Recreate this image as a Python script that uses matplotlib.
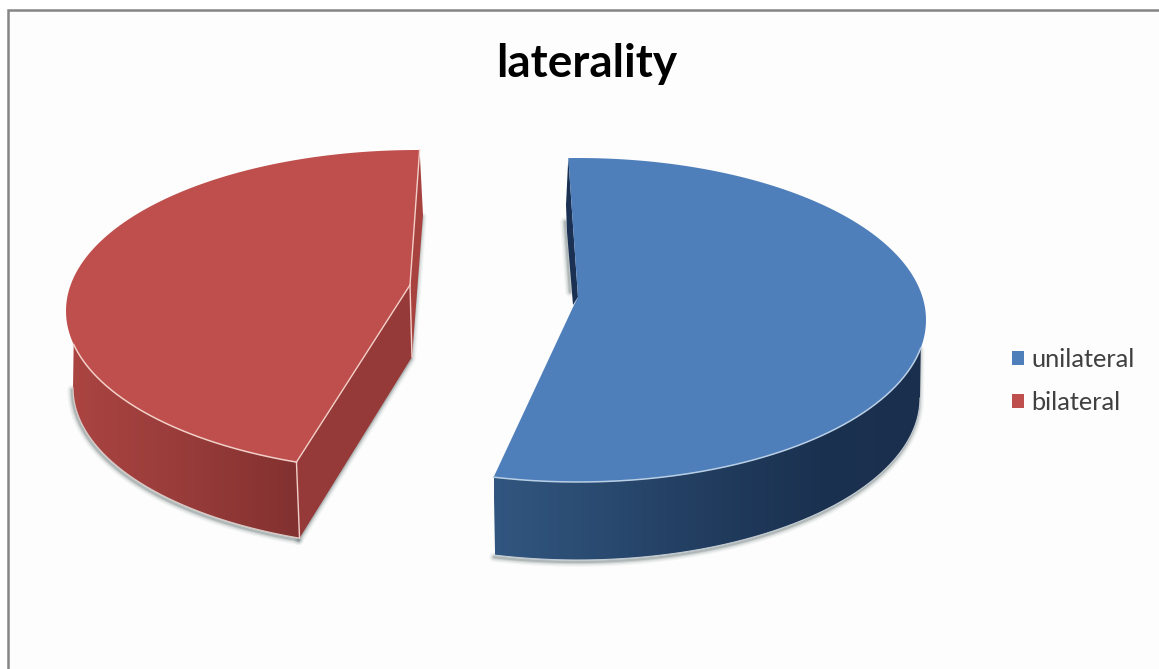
import numpy as np
import matplotlib
matplotlib.use("Agg")
import matplotlib.pyplot as plt
from matplotlib.colors import LinearSegmentedColormap
from matplotlib.patches import Patch, Polygon, Rectangle

title = "laterality"
categories = ["unilateral", "bilateral"]
values = [55, 45]

plt.rcParams["font.family"] = ["Lato", "DejaVu Sans"]

BLUE = "#4f7fba"
RED = "#bf4f4c"
# the tilted pie only shows about 355.7 degrees in total once foreshortened
VISIBLE_SWEEP = 355.7


def rim(ellipse, t):
    # t is in degrees, clockwise from the top of the ellipse
    cx, cy, a, b = ellipse
    t = np.radians(t)
    return cx + a * np.sin(t), cy - b * np.cos(t)


def arc(ellipse, t0, t1, n=160):
    x, y = rim(ellipse, np.linspace(t0, t1, n))
    return np.column_stack([x, y])


def soft_shadow(ax, pts, zorder=1):
    for lw, alpha in [(7, 0.06), (5, 0.10), (3, 0.16), (1.6, 0.25)]:
        ax.plot(pts[:, 0] - 1, pts[:, 1] + 2, color="#5a6a6a", lw=lw, alpha=alpha,
                solid_capstyle="round", zorder=zorder)


def gradient_wall(ax, pts, x0, x1, colors, zorder=2):
    cmap = LinearSegmentedColormap.from_list("wall", colors)
    grad = np.linspace(0, 1, 256).reshape(1, -1)
    im = ax.imshow(grad, extent=(x0, x1, 669, 0), cmap=cmap, aspect="auto", zorder=zorder)
    im.set_clip_path(Polygon(pts, closed=True, transform=ax.transData))


fig = plt.figure(figsize=(11.59, 6.69), dpi=100)
ax = fig.add_axes([0, 0, 1, 1])

# chart frame, runs off the right and bottom edges
ax.add_patch(Rectangle((8, 10), 1160, 670, facecolor="#fdfdfd", edgecolor="#858585", lw=1.8, zorder=0))

sweep = [v / sum(values) * VISIBLE_SWEEP for v in values]

# unilateral slice
blue_top = (578, 320, 348, 162)
blue_low = (578, 398, 342, 162)
blue_start = -1.6
blue_end = blue_start + sweep[0]
blue_apex = (578, 297)

blue_outline = arc(blue_low, blue_end, 90)
soft_shadow(ax, np.vstack([[rim(blue_top, 100)], blue_outline[::-1]]))
soft_shadow(ax, np.array([[566, 220], [571, 290]]))

blue_wall = np.vstack([arc(blue_top, 100, blue_end), blue_outline])
gradient_wall(ax, blue_wall, 494, 930, ["#31567f", "#2a4a70", "#213c5e", "#1b3150", "#1a2f4d"])
ax.add_patch(Polygon([rim(blue_top, blue_start), (566, 205), (567, 232), (573, 305), blue_apex],
                     closed=True, facecolor="#1a3154", edgecolor="none", zorder=2))

blue_face = np.vstack([arc(blue_top, blue_start, blue_end), [(574, 305)], [blue_apex]])
ax.add_patch(Polygon(blue_face, closed=True, facecolor=BLUE, edgecolor="none", zorder=3))
ax.plot(*arc(blue_top, 100, blue_end).T, color="#b9cfe6", lw=1.1, zorder=4)
ax.plot(*blue_outline.T, color="#c4ccd4", lw=0.8, zorder=4)

# bilateral slice
red_top = (418, 311, 352, 161)
red_low = (419, 388, 346, 160)
red_start = 200.2
red_end = red_start + sweep[1]
red_apex = (410, 285)
red_apex_low = (412, 357)

red_outline = arc(red_low, red_start, 270)
soft_shadow(ax, red_outline)
soft_shadow(ax, np.array([rim(red_low, red_start), red_apex_low, (423, 215)]))

red_wall = np.vstack([arc(red_top, red_start, 258), red_outline[::-1]])
gradient_wall(ax, red_wall, 66, 300, ["#ab4542", "#983c3a", "#823130"])
ax.add_patch(Polygon([rim(red_top, red_end), (423, 215), red_apex_low, red_apex],
                     closed=True, facecolor="#a8423f", edgecolor="none", zorder=2))
ax.add_patch(Polygon([red_apex, rim(red_top, red_start), rim(red_low, red_start), red_apex_low],
                     closed=True, facecolor="#953a38", edgecolor="none", zorder=2))

red_face = np.vstack([arc(red_top, red_start, red_end), [red_apex]])
ax.add_patch(Polygon(red_face, closed=True, facecolor=RED, edgecolor="none", zorder=3))

edge = "#f2cfc8"
ax.plot(*arc(red_top, red_start, 258).T, color=edge, lw=1.1, zorder=4)
ax.plot(*red_outline.T, color="#d8c8c4", lw=0.9, zorder=4)
for p, q in [(rim(red_top, red_end), red_apex),
             (red_apex, rim(red_top, red_start)),
             (rim(red_top, red_start), rim(red_low, red_start)),
             (red_apex, red_apex_low)]:
    ax.plot([p[0], q[0]], [p[1], q[1]], color=edge, lw=1.0, zorder=4)

ax.text(587, 64, title, fontsize=33, fontweight="bold", color="black", ha="center", va="center", zorder=5)

handles = [Patch(facecolor=BLUE, label=categories[0]), Patch(facecolor=RED, label=categories[1])]
ax.legend(handles=handles, loc="center left", bbox_to_anchor=(992 / 1159, 1 - 381 / 669), frameon=False,
          fontsize=18.3, handlelength=0.46, handleheight=0.46, handletextpad=0.3, labelspacing=0.8,
          labelcolor="#404040", borderpad=0.3)

ax.set_xlim(0, 1159)
ax.set_ylim(669, 0)
ax.axis("off")

fig.savefig("out.png", dpi=100, facecolor="white")
